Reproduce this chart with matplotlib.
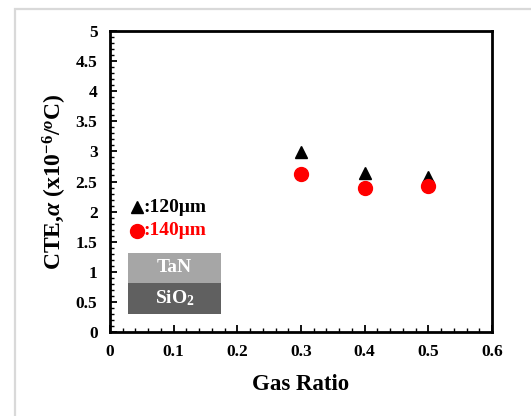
import numpy as np
import matplotlib.pyplot as plt
from matplotlib.patches import Rectangle
from matplotlib.ticker import MultipleLocator

plt.rcParams['font.family'] = 'Liberation Serif'
plt.rcParams['font.weight'] = 'bold'
plt.rcParams['mathtext.fontset'] = 'custom'
plt.rcParams['mathtext.rm'] = 'Liberation Serif:bold'
plt.rcParams['mathtext.it'] = 'Liberation Serif:bold:italic'

# data
gas_ratio = [0.3, 0.4, 0.5]
cte_120 = [2.99, 2.64, 2.57]
cte_140 = [2.62, 2.39, 2.43]

fig = plt.figure(figsize=(5.31, 4.16), dpi=100)
W, H = 531, 416
ax = fig.add_axes([110 / W, 1 - 332 / H, (492 - 110) / W, (332 - 31) / H])

# light gray frame around the chart area
fig.patches.append(Rectangle((14.5 / W, -0.1), 1.2, 1 - 8.5 / H + 0.1, transform=fig.transFigure,
                             fill=False, edgecolor='#d9d9d9', linewidth=1.6))

ax.plot(gas_ratio, cte_120, '^', color='black', markersize=9, linestyle='none')
ax.plot(gas_ratio, cte_140, 'o', color='red', markersize=10, linestyle='none')

ax.set_xlim(0, 0.6)
ax.set_ylim(0, 5)
ax.xaxis.set_minor_locator(MultipleLocator(0.02))
ax.yaxis.set_minor_locator(MultipleLocator(0.1))
ax.set_xticks(np.arange(0, 0.61, 0.1))
ax.set_xticklabels(['0', '0.1', '0.2', '0.3', '0.4', '0.5', '0.6'])
ax.set_yticks(np.arange(0, 5.01, 0.5))
ax.set_yticklabels(['0', '0.5', '1', '1.5', '2', '2.5', '3', '3.5', '4', '4.5', '5'])
ax.tick_params(which='major', direction='in', length=5, width=1.3, labelsize=12.5, pad=9)
ax.tick_params(which='minor', direction='in', length=3, width=1.0)
for s in ax.spines.values():
    s.set_linewidth(2)

ax.set_xlabel('Gas Ratio', fontsize=16.5, fontweight='bold', labelpad=10)
ax.set_ylabel(r'CTE,$\alpha$ (x10$^{-6}$/$^{o}$C)', fontsize=17, fontweight='bold', labelpad=5)

# legend-like annotations
ax.plot([0.043], [2.07], '^', color='black', markersize=9, clip_on=False)
ax.text(0.052, 2.07, ':120μm', fontsize=14, fontweight='bold', color='black', va='center')
ax.plot([0.043], [1.68], 'o', color='red', markersize=10, clip_on=False)
ax.text(0.052, 1.68, ':140μm', fontsize=14, fontweight='bold', color='red', va='center')

# layer stack inset
ax.add_patch(Rectangle((0.028, 0.82), 0.147, 0.50, facecolor='#a6a6a6', edgecolor='none'))
ax.add_patch(Rectangle((0.028, 0.30), 0.147, 0.52, facecolor='#606060', edgecolor='none'))
ax.text(0.1015, 1.07, 'TaN', fontsize=14, fontweight='bold', color='white', ha='center', va='center')
ax.text(0.1015, 0.56, 'SiO$_2$', fontsize=14, fontweight='bold', color='white', ha='center', va='center')

fig.savefig('out.png', dpi=100)
